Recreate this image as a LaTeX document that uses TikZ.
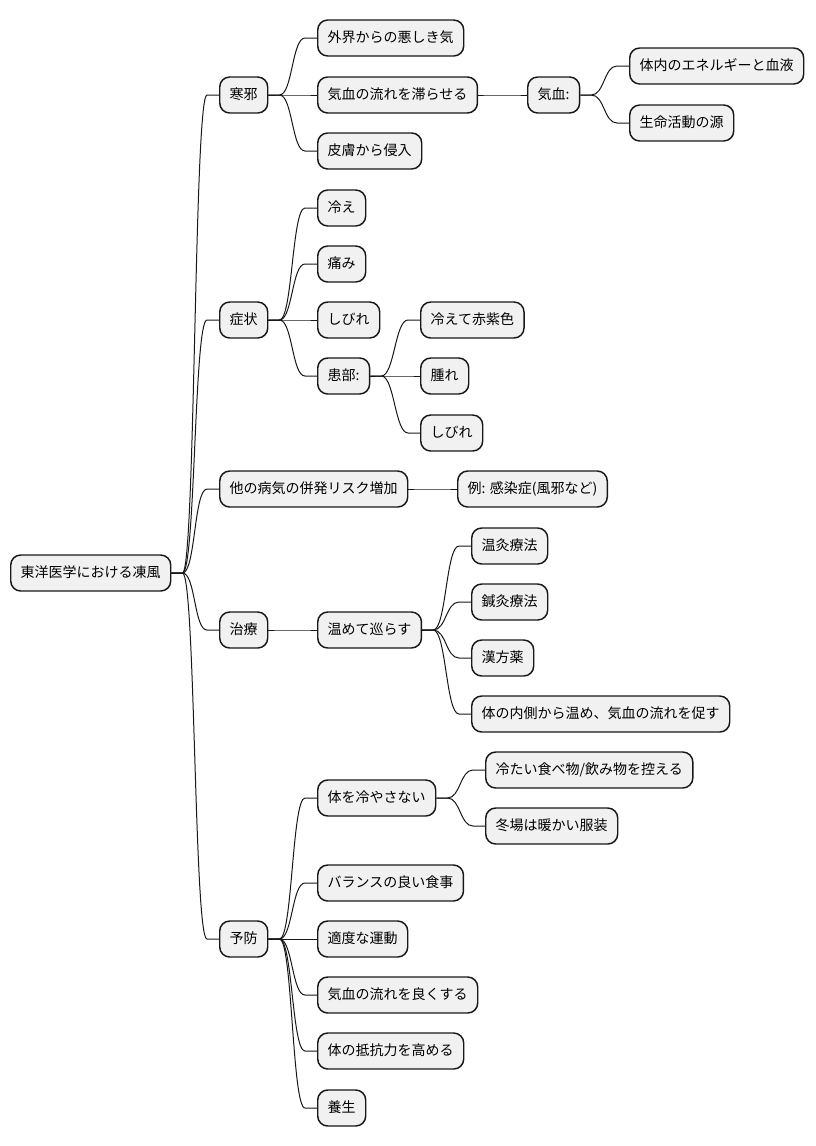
\documentclass[tikz,border=0pt]{standalone}
\usepackage{fontspec}
\setmainfont{Noto Sans CJK JP}
\usetikzlibrary{calc}
\definecolor{boxfill}{HTML}{F1F1F1}
\definecolor{boxline}{HTML}{181818}
\tikzset{
  mmbox/.style={draw=boxline, fill=boxfill, rounded corners=7.5pt, line width=1.1pt,
    inner xsep=7.5pt, inner ysep=0pt, minimum height=27pt, anchor=west,
    text height=8.6pt, text depth=1.9pt, font=\fontsize{10.5pt}{12pt}\selectfont},
  conn/.style={draw=boxline, line width=0.75pt}
}
\newcommand\mmlink[2]{\draw[conn] (#1.east) -- ++(11,0) .. controls +(13,0) and +(-13,0) .. ($(#2.west)+(-12,0)$) -- (#2.west);}
\begin{document}
\begin{tikzpicture}[x=0.75pt,y=-0.75pt]
\useasboundingbox (0,0) rectangle (815,1146);
\node[mmbox] (root) at (10,573) {東洋医学における凍風};
\node[mmbox] (a) at (219,95) {寒邪};
\node[mmbox] (a1) at (317,38) {外界からの悪しき気};
\node[mmbox] (a2) at (317,95) {気血の流れを滞らせる};
\node[mmbox] (a3) at (317,151) {皮膚から侵入};
\node[mmbox] (a21) at (527,95) {気血:};
\node[mmbox] (a211) at (629,66) {体内のエネルギーと血液};
\node[mmbox] (a212) at (629,123) {生命活動の源};
\node[mmbox] (b) at (219,320) {症状};
\node[mmbox] (b1) at (317,208) {冷え};
\node[mmbox] (b2) at (317,264) {痛み};
\node[mmbox] (b3) at (317,320) {しびれ};
\node[mmbox] (b4) at (317,376) {患部:};
\node[mmbox] (b41) at (420,320) {冷えて赤紫色};
\node[mmbox] (b42) at (420,376) {腫れ};
\node[mmbox] (b43) at (420,433) {しびれ};
\node[mmbox] (c) at (219,489) {他の病気の併発リスク増加};
\node[mmbox] (c1) at (457,489) {例: 感染症(風邪など)};
\node[mmbox] (d) at (219,630) {治療};
\node[mmbox] (d1) at (317,630) {温めて巡らす};
\node[mmbox] (d11) at (471,546) {温灸療法};
\node[mmbox] (d12) at (471,602) {鍼灸療法};
\node[mmbox] (d13) at (471,658) {漢方薬};
\node[mmbox] (d14) at (471,714) {体の内側から温め、気血の流れを促す};
\node[mmbox] (e) at (219,939) {予防};
\node[mmbox] (e1) at (317,798) {体を冷やさない};
\node[mmbox] (e11) at (485,770) {冷たい食べ物/飲み物を控える};
\node[mmbox] (e12) at (485,826) {冬場は暖かい服装};
\node[mmbox] (e2) at (317,883) {バランスの良い食事};
\node[mmbox] (e3) at (317,939) {適度な運動};
\node[mmbox] (e4) at (317,995) {気血の流れを良くする};
\node[mmbox] (e5) at (317,1051) {体の抵抗力を高める};
\node[mmbox] (e6) at (317,1108) {養生};
\mmlink{root}{a}
\mmlink{root}{b}
\mmlink{root}{c}
\mmlink{root}{d}
\mmlink{root}{e}
\mmlink{a}{a1}
\mmlink{a}{a2}
\mmlink{a}{a3}
\mmlink{a2}{a21}
\mmlink{a21}{a211}
\mmlink{a21}{a212}
\mmlink{b}{b1}
\mmlink{b}{b2}
\mmlink{b}{b3}
\mmlink{b}{b4}
\mmlink{b4}{b41}
\mmlink{b4}{b42}
\mmlink{b4}{b43}
\mmlink{c}{c1}
\mmlink{d}{d1}
\mmlink{d1}{d11}
\mmlink{d1}{d12}
\mmlink{d1}{d13}
\mmlink{d1}{d14}
\mmlink{e}{e1}
\mmlink{e1}{e11}
\mmlink{e1}{e12}
\mmlink{e}{e2}
\mmlink{e}{e3}
\mmlink{e}{e4}
\mmlink{e}{e5}
\mmlink{e}{e6}
\end{tikzpicture}
\end{document}
